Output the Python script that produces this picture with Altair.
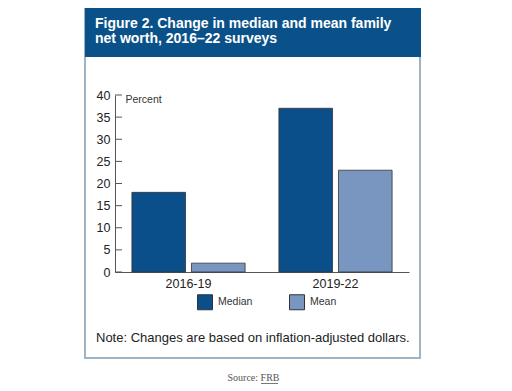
import altair as alt
import pandas as pd

# ---- data ----
periods = ["2016-19", "2019-22"]
median_vals = [18, 37]
mean_vals = [2, 23]
series = ["Median", "Mean"]
colors = ["#0B4F8A", "#7896BF"]
y_ticks = [0, 5, 10, 15, 20, 25, 30, 35, 40]
title_lines = ["Figure 2. Change in median and mean family", "net worth, 2016\u201322 surveys"]
note_text = "Note: Changes are based on inflation-adjusted dollars."
source_text = "Source: FRB"

df = pd.DataFrame({
    "period": periods * 2,
    "series": ["Median"] * len(periods) + ["Mean"] * len(periods),
    "value": median_vals + mean_vals,
})
tick_df = pd.DataFrame({"value": y_ticks})
one = pd.DataFrame({"k": [0]})

FONT = "Liberation Sans"

y_axis = alt.Axis(values=y_ticks, title="Percent", titleAngle=0, titleX=10, titleY=4,
                  titleAlign="left", titleBaseline="middle", titleFontSize=10.5,
                  titleFontWeight="normal", titleColor="#333333", titleFont=FONT,
                  ticks=False, tickSize=0, labelPadding=5, labelFontSize=12.5,
                  labelColor="#222222", domainColor="#555555", grid=False, labelFont=FONT)
y_scale = alt.Scale(domain=[0, 40], nice=False)

border = alt.Chart(one).mark_rect(fillOpacity=0, stroke="#9DB3C6", strokeWidth=2).encode(
    x=alt.value(-30), x2=alt.value(305), y=alt.value(-89), y2=alt.value(263)
)
header = alt.Chart(one).mark_rect(color="#0B5189").encode(
    x=alt.value(-30), x2=alt.value(306), y=alt.value(-89), y2=alt.value(-38)
)
title = alt.Chart(one).mark_text(
    text=title_lines, align="left", baseline="alphabetic", fontSize=14,
    fontWeight="bold", color="white", lineHeight=15, font=FONT
).encode(x=alt.value(-20), y=alt.value(-67))

bars = alt.Chart(df).mark_bar(stroke="#333333", strokeWidth=0.8).encode(
    x=alt.X("period:N", sort=periods,
            scale=alt.Scale(paddingInner=0.23, paddingOuter=0.115),
            axis=alt.Axis(title=None, labelAngle=0, ticks=False, tickSize=0,
                          labelPadding=5, labelFontSize=12.5, labelColor="#222222",
                          domainColor="#555555", labelFont=FONT)),
    xOffset=alt.XOffset("series:N", sort=series,
                        scale=alt.Scale(paddingInner=0.1, paddingOuter=0)),
    y=alt.Y("value:Q", scale=y_scale, axis=y_axis),
    color=alt.Color("series:N", sort=series,
                    scale=alt.Scale(domain=series, range=colors),
                    legend=alt.Legend(title=None, orient="none", legendX=82, legendY=199,
                                      direction="horizontal", symbolType="square",
                                      symbolSize=225, symbolStrokeColor="#333333",
                                      symbolStrokeWidth=1, labelFontSize=10.5,
                                      labelColor="#333333", columnPadding=34, labelOffset=5,
                                      padding=0, labelFont=FONT)),
)

ticks = alt.Chart(tick_df).mark_rule(color="#555555", strokeWidth=1).encode(
    y=alt.Y("value:Q", scale=y_scale, axis=y_axis), x=alt.value(0), x2=alt.value(7)
)

note = alt.Chart(one).mark_text(
    text=note_text, align="left", baseline="middle", fontSize=13, color="#222222", font=FONT
).encode(x=alt.value(-19), y=alt.value(243))

source = alt.Chart(one).mark_text(
    text=source_text, align="center", baseline="middle", fontSize=10,
    color="#555555", font="Liberation Serif"
).encode(x=alt.value(138.5), y=alt.value(283))

underline = alt.Chart(one).mark_rule(color="#777777", strokeWidth=1).encode(
    x=alt.value(146), x2=alt.value(163), y=alt.value(288.5)
)

chart = alt.layer(border, header, title, bars, ticks, note, source, underline).properties(
    width=294, height=177,
    autosize=alt.AutoSizeParams(type="none"),
    padding={"left": 107, "top": 87, "right": 95, "bottom": 116},
).configure_view(stroke=None)

chart.save("out.html", embed_options={"renderer": "svg", "actions": False})
